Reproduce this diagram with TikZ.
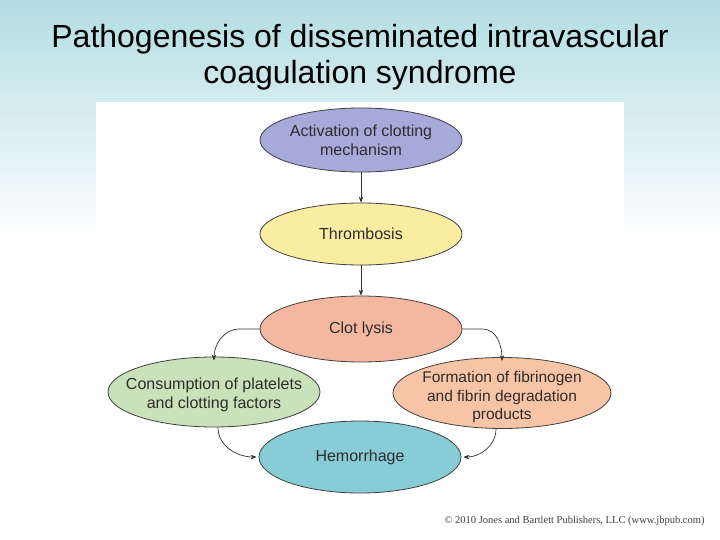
\documentclass[tikz,border=0pt]{standalone}
\usepackage{fontspec}
\setmainfont{Liberation Sans}
\newfontfamily\copyfont{Liberation Serif}
\usetikzlibrary{shapes.geometric,arrows.meta}
\definecolor{bgtop}{RGB}{178,221,227}
\definecolor{cblue}{RGB}{166,170,218}
\definecolor{cyellow}{RGB}{250,236,160}
\definecolor{csalmon}{RGB}{244,184,160}
\definecolor{cgreen}{RGB}{202,226,186}
\definecolor{corange}{RGB}{248,196,166}
\definecolor{cteal}{RGB}{136,204,216}
\definecolor{txt}{RGB}{45,45,45}
\tikzset{
  oval/.style={ellipse, draw=black!75, line width=0.8pt, inner sep=0pt,
    minimum width=202pt, minimum height=64pt},
  ovaltext/.style={align=center, font=\fontsize{16}{19}\selectfont, text=txt, inner sep=0pt},
  conn/.style={draw=black!80, line width=0.7pt, -{Stealth[length=6pt,width=4.5pt]}}
}
\begin{document}
\begin{tikzpicture}[x=1pt,y=-1pt]
\useasboundingbox (0,0) rectangle (720,540);
\shade[top color=bgtop, bottom color=white] (0,0) rectangle (720,240);
\fill[white] (0,239) rectangle (720,540);
\fill[white] (96,102) rectangle (624,500);
\node[font=\fontsize{32}{36}\selectfont, align=center] (title) at (360,57)
  {Pathogenesis of disseminated intravascular\\coagulation syndrome};
\node[oval, fill=cblue, label={[ovaltext]center:Activation of clotting\\mechanism}] (act) at (361,140) {};
\node[oval, fill=cyellow, minimum height=62pt, label={[ovaltext]center:Thrombosis}] (thr) at (361,234) {};
\node[oval, fill=csalmon, minimum height=66pt, label={[ovaltext]center:Clot lysis}] (lys) at (361,329) {};
\node[oval, fill=cgreen, minimum width=212pt, minimum height=70pt,
  label={[ovaltext, yshift=-3pt]center:Consumption of platelets\\and clotting factors}] (con) at (214,392) {};
\node[oval, fill=corange, minimum width=218pt, minimum height=71pt,
  label={[ovaltext, yshift=-4pt, font=\fontsize{15.5}{18.5}\selectfont]center:Formation of fibrinogen\\and fibrin degradation\\products}] (form) at (502,393) {};
\node[oval, fill=cteal, minimum width=202pt, minimum height=72pt, label={[ovaltext]center:Hemorrhage}] (hem) at (360,457) {};
\draw[conn] (act) -- (thr);
\draw[conn] (thr) -- (lys);
\draw[conn] (lys.west) -- ++(-20,0) to[out=180,in=90] ([yshift=-4pt]con.north);
\draw[conn] (lys.east) -- ++(20,0) to[out=0,in=90] ([yshift=-4pt]form.north);
\draw[conn] ([xshift=4pt]con.south) to[out=-90,in=180] ([xshift=-2pt]hem.west);
\draw[conn] ([xshift=-6pt]form.south) to[out=-90,in=0] ([xshift=2pt]hem.east);
\node[font=\copyfont\fontsize{10.5}{12}\selectfont, text=black!75, anchor=east] (copy) at (708,521)
  {\textcopyright\ 2010 Jones and Bartlett Publishers, LLC (www.jbpub.com)};
\end{tikzpicture}
\end{document}
